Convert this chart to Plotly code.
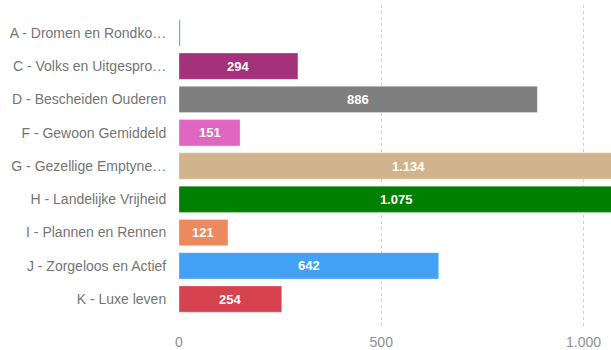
import plotly.graph_objects as go

# Segment labels (shortened as displayed on the axis), counts and colours
categories = [
    "A - Dromen en Rondko…",
    "C - Volks en Uitgespro…",
    "D - Bescheiden Ouderen",
    "F - Gewoon Gemiddeld",
    "G - Gezellige Emptyne…",
    "H - Landelijke Vrijheid",
    "I - Plannen en Rennen",
    "J - Zorgeloos en Actief",
    "K - Luxe leven",
]
values = [3, 294, 886, 151, 1134, 1075, 121, 642, 254]
colors = [
    "#4f9ec4", "#a5317b", "#7f7f7f", "#e066c2", "#d2b48c",
    "#008000", "#ec8a5e", "#42a0f5", "#d6424e",
]
x_ticks = [0, 500, 1000]


def nl_number(v):
    return f"{v:,}".replace(",", ".")


fig = go.Figure(
    go.Bar(
        y=categories,
        x=values,
        orientation="h",
        marker=dict(color=colors, line=dict(color="rgba(255,255,255,0.6)", width=0.5)),
        width=0.79,
        hoverinfo="skip",
    )
)

# value labels centred on each bar (skipped where the bar is too thin)
for cat, v in zip(categories, values):
    if v < 50:
        continue
    fig.add_annotation(
        x=v / 2, y=cat, text=f"<b>{nl_number(v)}</b>", showarrow=False,
        font=dict(family="Liberation Sans, Arial, sans-serif", size=13, color="white"),
        xanchor="center", yanchor="middle",
    )

fig.update_layout(
    width=611, height=350,
    margin=dict(l=179, r=0, t=5, b=20),
    paper_bgcolor="white", plot_bgcolor="white",
    separators=",.",
    showlegend=False,
    font=dict(family="Liberation Sans, Arial, sans-serif", size=14, color="#757575"),
)
fig.update_xaxes(
    range=[0, 1068],
    tickvals=x_ticks,
    ticktext=[nl_number(t) for t in x_ticks],
    showgrid=True, gridcolor="#d0d0d0", griddash="dot", gridwidth=1,
    zeroline=False, showline=False,
    ticks="outside", ticklen=1, tickcolor="rgba(0,0,0,0)",
    tickfont=dict(color="#909090", size=14),
)
fig.update_yaxes(
    type="category",
    categoryorder="array", categoryarray=categories,
    range=[8.87, -0.84],
    showgrid=False, zeroline=False, showline=False,
    ticks="outside", ticklen=9, tickcolor="rgba(0,0,0,0)",
    tickfont=dict(color="#757575", size=14),
)

fig.write_html("out.html")
